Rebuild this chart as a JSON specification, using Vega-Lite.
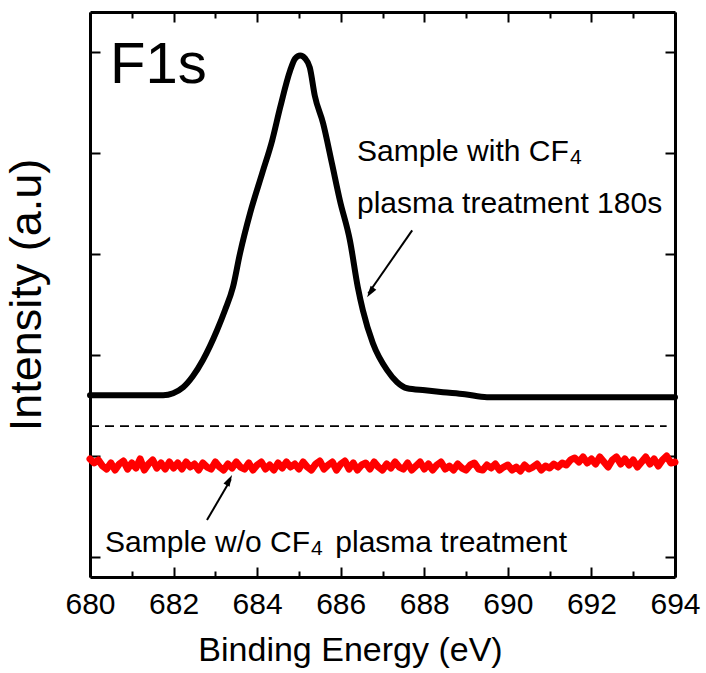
{
  "$schema": "https://vega.github.io/schema/vega-lite/v6.json",
  "width": 585,
  "height": 565,
  "autosize": {"type": "none"},
  "padding": {"left": 90, "top": 12, "right": 31, "bottom": 96},
  "background": "white",
  "config": {
    "font": "Liberation Sans",
    "view": {"stroke": null},
    "axis": {
      "domainColor": "black",
      "domainWidth": 3,
      "tickColor": "black",
      "tickWidth": 2,
      "grid": false,
      "labelColor": "black",
      "titleColor": "black",
      "titleFontWeight": "normal",
      "labelFont": "Liberation Sans",
      "titleFont": "Liberation Sans"
    }
  },
  "datasets": {
    "black": [
      {"x": 680.00, "y": 1.602}, {"x": 681.00, "y": 1.602}, {"x": 681.75, "y": 1.602},
      {"x": 681.99, "y": 1.622}, {"x": 682.23, "y": 1.681}, {"x": 682.46, "y": 1.790},
      {"x": 682.70, "y": 1.949}, {"x": 683.04, "y": 2.246}, {"x": 683.23, "y": 2.444},
      {"x": 683.42, "y": 2.671}, {"x": 683.59, "y": 3.008}, {"x": 683.83, "y": 3.404},
      {"x": 684.12, "y": 3.800}, {"x": 684.36, "y": 4.127}, {"x": 684.55, "y": 4.453},
      {"x": 684.79, "y": 4.820}, {"x": 684.91, "y": 4.939}, {"x": 685.03, "y": 4.968},
      {"x": 685.15, "y": 4.939}, {"x": 685.26, "y": 4.850}, {"x": 685.38, "y": 4.570},
      {"x": 685.58, "y": 4.295}, {"x": 685.79, "y": 3.899}, {"x": 685.98, "y": 3.533},
      {"x": 686.22, "y": 3.137}, {"x": 686.41, "y": 2.671}, {"x": 686.53, "y": 2.444},
      {"x": 686.77, "y": 2.117}, {"x": 687.11, "y": 1.850}, {"x": 687.35, "y": 1.731},
      {"x": 687.59, "y": 1.671}, {"x": 688.02, "y": 1.651}, {"x": 688.45, "y": 1.632},
      {"x": 688.97, "y": 1.612}, {"x": 689.50, "y": 1.582}, {"x": 690.05, "y": 1.582},
      {"x": 692.00, "y": 1.582}, {"x": 694.00, "y": 1.582}
    ],
    "red": [
      {"x": 680.0, "y": 0.97}, {"x": 680.1, "y": 0.93}, {"x": 680.2, "y": 0.96}, {"x": 680.3, "y": 0.90}, {"x": 680.4, "y": 0.87},
      {"x": 680.5, "y": 0.93}, {"x": 680.6, "y": 0.86}, {"x": 680.7, "y": 0.92}, {"x": 680.8, "y": 0.95}, {"x": 680.9, "y": 0.87},
      {"x": 681.0, "y": 0.93}, {"x": 681.1, "y": 0.88}, {"x": 681.2, "y": 0.97}, {"x": 681.3, "y": 0.86}, {"x": 681.4, "y": 0.92},
      {"x": 681.5, "y": 0.96}, {"x": 681.6, "y": 0.88}, {"x": 681.7, "y": 0.93}, {"x": 681.8, "y": 0.87}, {"x": 681.9, "y": 0.94},
      {"x": 682.0, "y": 0.88}, {"x": 682.1, "y": 0.93}, {"x": 682.2, "y": 0.87}, {"x": 682.3, "y": 0.94}, {"x": 682.4, "y": 0.89},
      {"x": 682.5, "y": 0.92}, {"x": 682.6, "y": 0.86}, {"x": 682.7, "y": 0.93}, {"x": 682.8, "y": 0.89}, {"x": 682.9, "y": 0.87},
      {"x": 683.0, "y": 0.94}, {"x": 683.1, "y": 0.89}, {"x": 683.2, "y": 0.86}, {"x": 683.3, "y": 0.92}, {"x": 683.4, "y": 0.88},
      {"x": 683.5, "y": 0.94}, {"x": 683.6, "y": 0.89}, {"x": 683.7, "y": 0.87}, {"x": 683.8, "y": 0.93}, {"x": 683.9, "y": 0.86},
      {"x": 684.0, "y": 0.91}, {"x": 684.1, "y": 0.94}, {"x": 684.2, "y": 0.87}, {"x": 684.3, "y": 0.91}, {"x": 684.4, "y": 0.86},
      {"x": 684.5, "y": 0.93}, {"x": 684.6, "y": 0.88}, {"x": 684.7, "y": 0.94}, {"x": 684.8, "y": 0.89}, {"x": 684.9, "y": 0.92},
      {"x": 685.0, "y": 0.87}, {"x": 685.1, "y": 0.94}, {"x": 685.2, "y": 0.89}, {"x": 685.3, "y": 0.86}, {"x": 685.4, "y": 0.92},
      {"x": 685.5, "y": 0.95}, {"x": 685.6, "y": 0.87}, {"x": 685.7, "y": 0.91}, {"x": 685.8, "y": 0.94}, {"x": 685.9, "y": 0.86},
      {"x": 686.0, "y": 0.92}, {"x": 686.1, "y": 0.95}, {"x": 686.2, "y": 0.87}, {"x": 686.3, "y": 0.93}, {"x": 686.4, "y": 0.86},
      {"x": 686.5, "y": 0.91}, {"x": 686.6, "y": 0.93}, {"x": 686.7, "y": 0.87}, {"x": 686.8, "y": 0.94}, {"x": 686.9, "y": 0.89},
      {"x": 687.0, "y": 0.86}, {"x": 687.1, "y": 0.92}, {"x": 687.2, "y": 0.88}, {"x": 687.3, "y": 0.94}, {"x": 687.4, "y": 0.89},
      {"x": 687.5, "y": 0.87}, {"x": 687.6, "y": 0.93}, {"x": 687.7, "y": 0.86}, {"x": 687.8, "y": 0.90}, {"x": 687.9, "y": 0.94},
      {"x": 688.0, "y": 0.87}, {"x": 688.1, "y": 0.92}, {"x": 688.2, "y": 0.86}, {"x": 688.3, "y": 0.91}, {"x": 688.4, "y": 0.94},
      {"x": 688.5, "y": 0.87}, {"x": 688.6, "y": 0.90}, {"x": 688.7, "y": 0.86}, {"x": 688.8, "y": 0.92}, {"x": 688.9, "y": 0.88},
      {"x": 689.0, "y": 0.86}, {"x": 689.1, "y": 0.91}, {"x": 689.2, "y": 0.93}, {"x": 689.3, "y": 0.87}, {"x": 689.4, "y": 0.86},
      {"x": 689.5, "y": 0.91}, {"x": 689.6, "y": 0.88}, {"x": 689.7, "y": 0.92}, {"x": 689.8, "y": 0.86}, {"x": 689.9, "y": 0.89},
      {"x": 690.0, "y": 0.91}, {"x": 690.1, "y": 0.86}, {"x": 690.2, "y": 0.89}, {"x": 690.3, "y": 0.85}, {"x": 690.4, "y": 0.91},
      {"x": 690.5, "y": 0.87}, {"x": 690.6, "y": 0.89}, {"x": 690.7, "y": 0.92}, {"x": 690.8, "y": 0.86}, {"x": 690.9, "y": 0.90},
      {"x": 691.0, "y": 0.88}, {"x": 691.1, "y": 0.92}, {"x": 691.2, "y": 0.89}, {"x": 691.3, "y": 0.93}, {"x": 691.4, "y": 0.91},
      {"x": 691.5, "y": 0.96}, {"x": 691.6, "y": 0.98}, {"x": 691.7, "y": 0.94}, {"x": 691.8, "y": 0.99}, {"x": 691.9, "y": 0.93},
      {"x": 692.0, "y": 0.97}, {"x": 692.1, "y": 0.92}, {"x": 692.2, "y": 0.99}, {"x": 692.3, "y": 0.94}, {"x": 692.4, "y": 0.89},
      {"x": 692.5, "y": 0.96}, {"x": 692.6, "y": 0.99}, {"x": 692.7, "y": 0.92}, {"x": 692.8, "y": 0.97}, {"x": 692.9, "y": 0.91},
      {"x": 693.0, "y": 0.96}, {"x": 693.1, "y": 0.89}, {"x": 693.2, "y": 0.94}, {"x": 693.3, "y": 0.99}, {"x": 693.4, "y": 0.92},
      {"x": 693.5, "y": 0.97}, {"x": 693.6, "y": 0.90}, {"x": 693.7, "y": 0.96}, {"x": 693.8, "y": 1.00}, {"x": 693.9, "y": 0.93},
      {"x": 694.0, "y": 0.94}
    ],
    "dash": [{"x": 680.0, "x2": 693.8, "y": 1.295}],
    "arrow1": [{"x": 687.71, "y": 3.236, "x2": 686.66, "y2": 2.61}],
    "arrow1tip": [{"x": 686.63, "y": 2.572}],
    "arrow2": [{"x": 682.80, "y": 0.364, "x2": 683.37, "y2": 0.77}],
    "arrow2tip": [{"x": 683.40, "y": 0.81}],
    "bigLabel": [{"x": 680.48, "y": 4.70, "text": "F1s"}],
    "notes": [
      {"x": 686.39, "y": 3.919, "text": "Sample with CF"},
      {"x": 686.39, "y": 3.404, "text": "plasma treatment 180s"},
      {"x": 680.36, "y": 0.0475, "text": "Sample w/o CF"},
      {"x": 685.87, "y": 0.0475, "text": "plasma treatment"}
    ],
    "subs": [
      {"x": 691.487, "y": 3.889, "text": "4"},
      {"x": 685.29, "y": 0.018, "text": "4"}
    ]
  },
  "resolve": {"axis": {"x": "independent", "y": "independent"}},
  "layer": [
    {
      "data": {"name": "black"},
      "mark": {"type": "line", "color": "black", "strokeWidth": 6, "interpolate": "monotone", "strokeCap": "round", "strokeJoin": "round"},
      "encoding": {
        "x": {
          "field": "x", "type": "quantitative",
          "scale": {"domain": [680, 694], "nice": false, "zero": false},
          "axis": {
            "orient": "bottom",
            "title": "Binding Energy (eV)",
            "titleFontSize": 34,
            "titlePadding": 10,
            "titleX": 260,
            "values": [680, 681, 682, 683, 684, 685, 686, 687, 688, 689, 690, 691, 692, 693, 694],
            "labelExpr": "datum.value % 2 === 0 ? datum.label : ''",
            "labelFontSize": 30,
            "labelPadding": 22,
            "labelFlush": false,
            "labelOverlap": false,
            "tickSize": {"condition": {"test": "datum.value % 2 === 0", "value": -10}, "value": -6}
          }
        },
        "y": {
          "field": "y", "type": "quantitative",
          "scale": {"domain": [-0.2, 5.4], "nice": false, "zero": false},
          "axis": {
            "orient": "left",
            "title": "Intensity (a.u)",
            "titleFontSize": 45,
            "titlePadding": 40,
            "values": [0, 1, 2, 3, 4, 5],
            "labels": false,
            "tickSize": -10
          }
        }
      }
    },
    {
      "data": {"name": "red"},
      "mark": {"type": "line", "color": "#ff0000", "strokeWidth": 7, "strokeJoin": "round", "strokeCap": "round"},
      "encoding": {
        "x": {
          "field": "x", "type": "quantitative",
          "scale": {"domain": [680, 694], "nice": false, "zero": false},
          "axis": {
            "orient": "top",
            "title": null,
            "values": [680, 681, 682, 683, 684, 685, 686, 687, 688, 689, 690, 691, 692, 693, 694],
            "labels": false,
            "tickSize": {"condition": {"test": "datum.value % 2 === 0", "value": -10}, "value": -6}
          }
        },
        "y": {
          "field": "y", "type": "quantitative",
          "scale": {"domain": [-0.2, 5.4], "nice": false, "zero": false},
          "axis": {
            "orient": "right",
            "title": null,
            "values": [0, 1, 2, 3, 4, 5],
            "labels": false,
            "tickSize": -10
          }
        }
      }
    },
    {
      "data": {"name": "dash"},
      "mark": {"type": "rule", "color": "black", "strokeWidth": 1.6, "strokeDash": [9, 6]},
      "encoding": {
        "x": {"field": "x", "type": "quantitative", "axis": null},
        "x2": {"field": "x2"},
        "y": {"field": "y", "type": "quantitative", "axis": null}
      }
    },
    {
      "data": {"name": "arrow1"},
      "mark": {"type": "rule", "color": "black", "strokeWidth": 2},
      "encoding": {
        "x": {"field": "x", "type": "quantitative", "axis": null},
        "x2": {"field": "x2"},
        "y": {"field": "y", "type": "quantitative", "axis": null},
        "y2": {"field": "y2"}
      }
    },
    {
      "data": {"name": "arrow1tip"},
      "mark": {"type": "point", "shape": "M0,0L-0.3,1L0.3,1Z", "filled": true, "color": "black", "opacity": 1, "size": 529, "angle": 214},
      "encoding": {
        "x": {"field": "x", "type": "quantitative", "axis": null},
        "y": {"field": "y", "type": "quantitative", "axis": null}
      }
    },
    {
      "data": {"name": "arrow2"},
      "mark": {"type": "rule", "color": "black", "strokeWidth": 2},
      "encoding": {
        "x": {"field": "x", "type": "quantitative", "axis": null},
        "x2": {"field": "x2"},
        "y": {"field": "y", "type": "quantitative", "axis": null},
        "y2": {"field": "y2"}
      }
    },
    {
      "data": {"name": "arrow2tip"},
      "mark": {"type": "point", "shape": "M0,0L-0.3,1L0.3,1Z", "filled": true, "color": "black", "opacity": 1, "size": 529, "angle": 29},
      "encoding": {
        "x": {"field": "x", "type": "quantitative", "axis": null},
        "y": {"field": "y", "type": "quantitative", "axis": null}
      }
    },
    {
      "data": {"name": "bigLabel"},
      "mark": {"type": "text", "align": "left", "baseline": "alphabetic", "fontSize": 58, "color": "black"},
      "encoding": {
        "x": {"field": "x", "type": "quantitative", "axis": null},
        "y": {"field": "y", "type": "quantitative", "axis": null},
        "text": {"field": "text"}
      }
    },
    {
      "data": {"name": "notes"},
      "mark": {"type": "text", "align": "left", "baseline": "alphabetic", "fontSize": 30, "color": "black"},
      "encoding": {
        "x": {"field": "x", "type": "quantitative", "axis": null},
        "y": {"field": "y", "type": "quantitative", "axis": null},
        "text": {"field": "text"}
      }
    },
    {
      "data": {"name": "subs"},
      "mark": {"type": "text", "align": "left", "baseline": "alphabetic", "fontSize": 21, "color": "black"},
      "encoding": {
        "x": {"field": "x", "type": "quantitative", "axis": null},
        "y": {"field": "y", "type": "quantitative", "axis": null},
        "text": {"field": "text"}
      }
    }
  ]
}
